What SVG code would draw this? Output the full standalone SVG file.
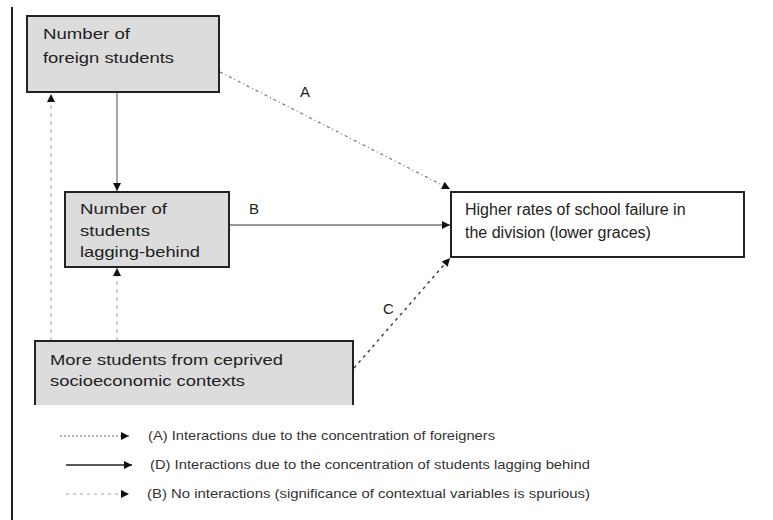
<svg xmlns="http://www.w3.org/2000/svg" width="773" height="520" viewBox="0 0 773 520">
<style>
text{font-family:"Liberation Sans",Arial,sans-serif;fill:#222}
.t{font-size:15px}
.t2{font-size:16px}
.lg{font-size:12px;fill:#333}
.box{fill:#dcdcdc;stroke:#222;stroke-width:2}
.wbox{fill:#fff;stroke:#222;stroke-width:2}
</style>
<defs>
<marker id="ah" viewBox="0 0 10 10" refX="10" refY="5" markerWidth="10" markerHeight="8" markerUnits="userSpaceOnUse" orient="auto">
<path d="M0,0 L10,5 L0,10 z" fill="#111"/>
</marker>
</defs>
<rect width="773" height="520" fill="#fff"/>
<line x1="12" y1="7" x2="12" y2="520" stroke="#222" stroke-width="2"/>

<g id="connectors" fill="none">
<line x1="117" y1="92" x2="117" y2="191" stroke="#888" stroke-width="1.5" marker-end="url(#ah)"/>
<line x1="51" y1="341" x2="51" y2="94" stroke="#bbb" stroke-width="1.3" stroke-dasharray="4 4" marker-end="url(#ah)"/>
<line x1="117" y1="341" x2="117" y2="268" stroke="#bbb" stroke-width="1.3" stroke-dasharray="4 4" marker-end="url(#ah)"/>
<line x1="220" y1="72" x2="450" y2="189" stroke="#777" stroke-width="1.2" stroke-dasharray="3 3 1 3" marker-end="url(#ah)"/>
<line x1="229" y1="225" x2="450" y2="225" stroke="#777" stroke-width="1.5" marker-end="url(#ah)"/>
<line x1="354" y1="368" x2="450" y2="258" stroke="#444" stroke-width="1.5" stroke-dasharray="3 4" marker-end="url(#ah)"/>
<text class="t" x="300" y="97">A</text>
<text class="t" x="249" y="214">B</text>
<text class="t" x="383" y="314">C</text>
</g>

<g id="node-foreign">
<rect class="box" x="27" y="16" width="192" height="76"/>
<text class="t" x="43" y="39" textLength="87" lengthAdjust="spacingAndGlyphs">Number of</text>
<text class="t" x="43" y="63" textLength="131" lengthAdjust="spacingAndGlyphs">foreign students</text>
</g>

<g id="node-lagging">
<rect class="box" x="65" y="192" width="164" height="75"/>
<text class="t" x="80" y="214" textLength="87" lengthAdjust="spacingAndGlyphs">Number of</text>
<text class="t" x="80" y="236" textLength="70" lengthAdjust="spacingAndGlyphs">students</text>
<text class="t" x="80" y="257" textLength="120" lengthAdjust="spacingAndGlyphs">lagging-behind</text>
</g>

<g id="node-deprived">
<rect x="35" y="341" width="318" height="64" fill="#dcdcdc"/>
<path d="M35,405 V341 H353 V405" fill="none" stroke="#222" stroke-width="2"/>
<text class="t" x="50" y="365" textLength="233" lengthAdjust="spacingAndGlyphs">More students from ceprived</text>
<text class="t" x="50" y="386" textLength="195" lengthAdjust="spacingAndGlyphs">socioeconomic contexts</text>
</g>

<g id="node-failure">
<rect class="wbox" x="451" y="192" width="293" height="65"/>
<text class="t2" x="465" y="215">Higher rates of school failure in</text>
<text class="t2" x="465" y="238">the division (lower graces)</text>
</g>

<g id="legend">
<line x1="60" y1="436" x2="129" y2="436" stroke="#666" stroke-width="1.2" stroke-dasharray="2 2" marker-end="url(#ah)"/>
<text class="lg" x="148" y="440" textLength="347" lengthAdjust="spacingAndGlyphs">(A) Interactions due to the concentration of foreigners</text>
<line x1="66" y1="465" x2="132" y2="465" stroke="#222" stroke-width="1.5" marker-end="url(#ah)"/>
<text class="lg" x="150" y="469" textLength="440" lengthAdjust="spacingAndGlyphs">(D) Interactions due to the concentration of students lagging behind</text>
<line x1="66" y1="494" x2="129" y2="494" stroke="#aaa" stroke-width="1.2" stroke-dasharray="3 4" marker-end="url(#ah)"/>
<text class="lg" x="147" y="498" textLength="443" lengthAdjust="spacingAndGlyphs">(B) No interactions (significance of contextual variables is spurious)</text>
</g>
</svg>
